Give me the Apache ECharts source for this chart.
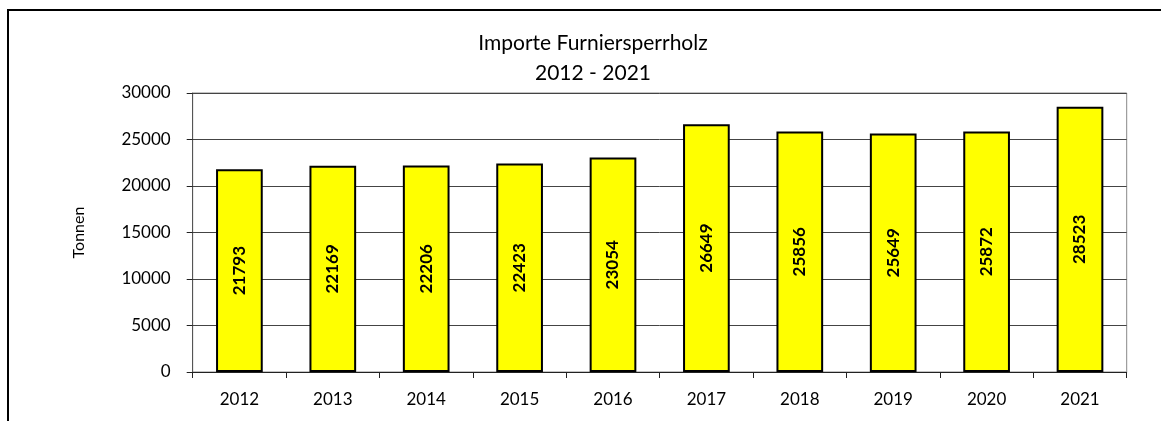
<!DOCTYPE html>
<html><head><meta charset="utf-8">
<script src="https://cdn.jsdelivr.net/npm/echarts@6/dist/echarts.min.js"></script>
<style>html,body{margin:0;padding:0;background:#fff}#c{width:1161px;height:421px}</style>
</head><body><div id="c"></div>
<script>
var years = ['2012','2013','2014','2015','2016','2017','2018','2019','2020','2021'];
var tonnen = [21793, 22169, 22206, 22423, 23054, 26649, 25856, 25649, 25872, 28523];
var titleLines = ['Importe Furniersperrholz', '2012 - 2021'];
var yName = 'Tonnen';
var FONT = 'Lato, "Open Sans", sans-serif';
var chart = echarts.init(document.getElementById('c'), null, {renderer:'canvas'});
chart.setOption({
  animation: false,
  backgroundColor: '#fff',
  title: {
    text: titleLines.join('\n'),
    left: 588, top: 23, textAlign: 'center',
    textStyle: {fontFamily: FONT, fontSize: 21, fontWeight: 'normal', color: '#000', lineHeight: 30}
  },
  graphic: [
    {type:'polyline', shape:{points:[[8,421],[8,10],[1161,10]]}, style:{stroke:'#000', lineWidth:2, fill:null}}
  ],
  grid: {left: 192.7, right: 34.3, top: 93, bottom: 49, show: true, borderColor: '#888', borderWidth: 1},
  xAxis: {
    type: 'category', data: years,
    axisLine: {lineStyle: {color: '#222', width: 1}},
    axisTick: {show: true, length: 6, lineStyle: {color: '#222'}},
    axisLabel: {fontFamily: FONT, fontSize: 17, color: '#000', margin: 19}
  },
  yAxis: {
    type: 'value', min: 0, max: 30000, interval: 5000,
    name: yName, nameLocation: 'middle', nameGap: 106, nameRotate: 90,
    nameTextStyle: {fontFamily: FONT, fontSize: 16, color: '#000'},
    axisLine: {show: true, lineStyle: {color: '#555', width: 1}},
    axisTick: {show: true, length: 6, lineStyle: {color: '#222'}},
    axisLabel: {fontFamily: FONT, fontSize: 17, color: '#000', margin: 22,
      formatter: function (v) { return String(v); }},
    splitLine: {lineStyle: {color: '#444', width: 1}}
  },
  series: [{
    type: 'bar', data: tonnen, barWidth: '50%',
    itemStyle: {color: '#ffff00', borderColor: '#000', borderWidth: 2},
    label: {
      show: true, position: 'inside', rotate: 90,
      fontFamily: FONT, fontSize: 17, fontWeight: 'bold', color: '#000'
    }
  }]
});
</script></body></html>
